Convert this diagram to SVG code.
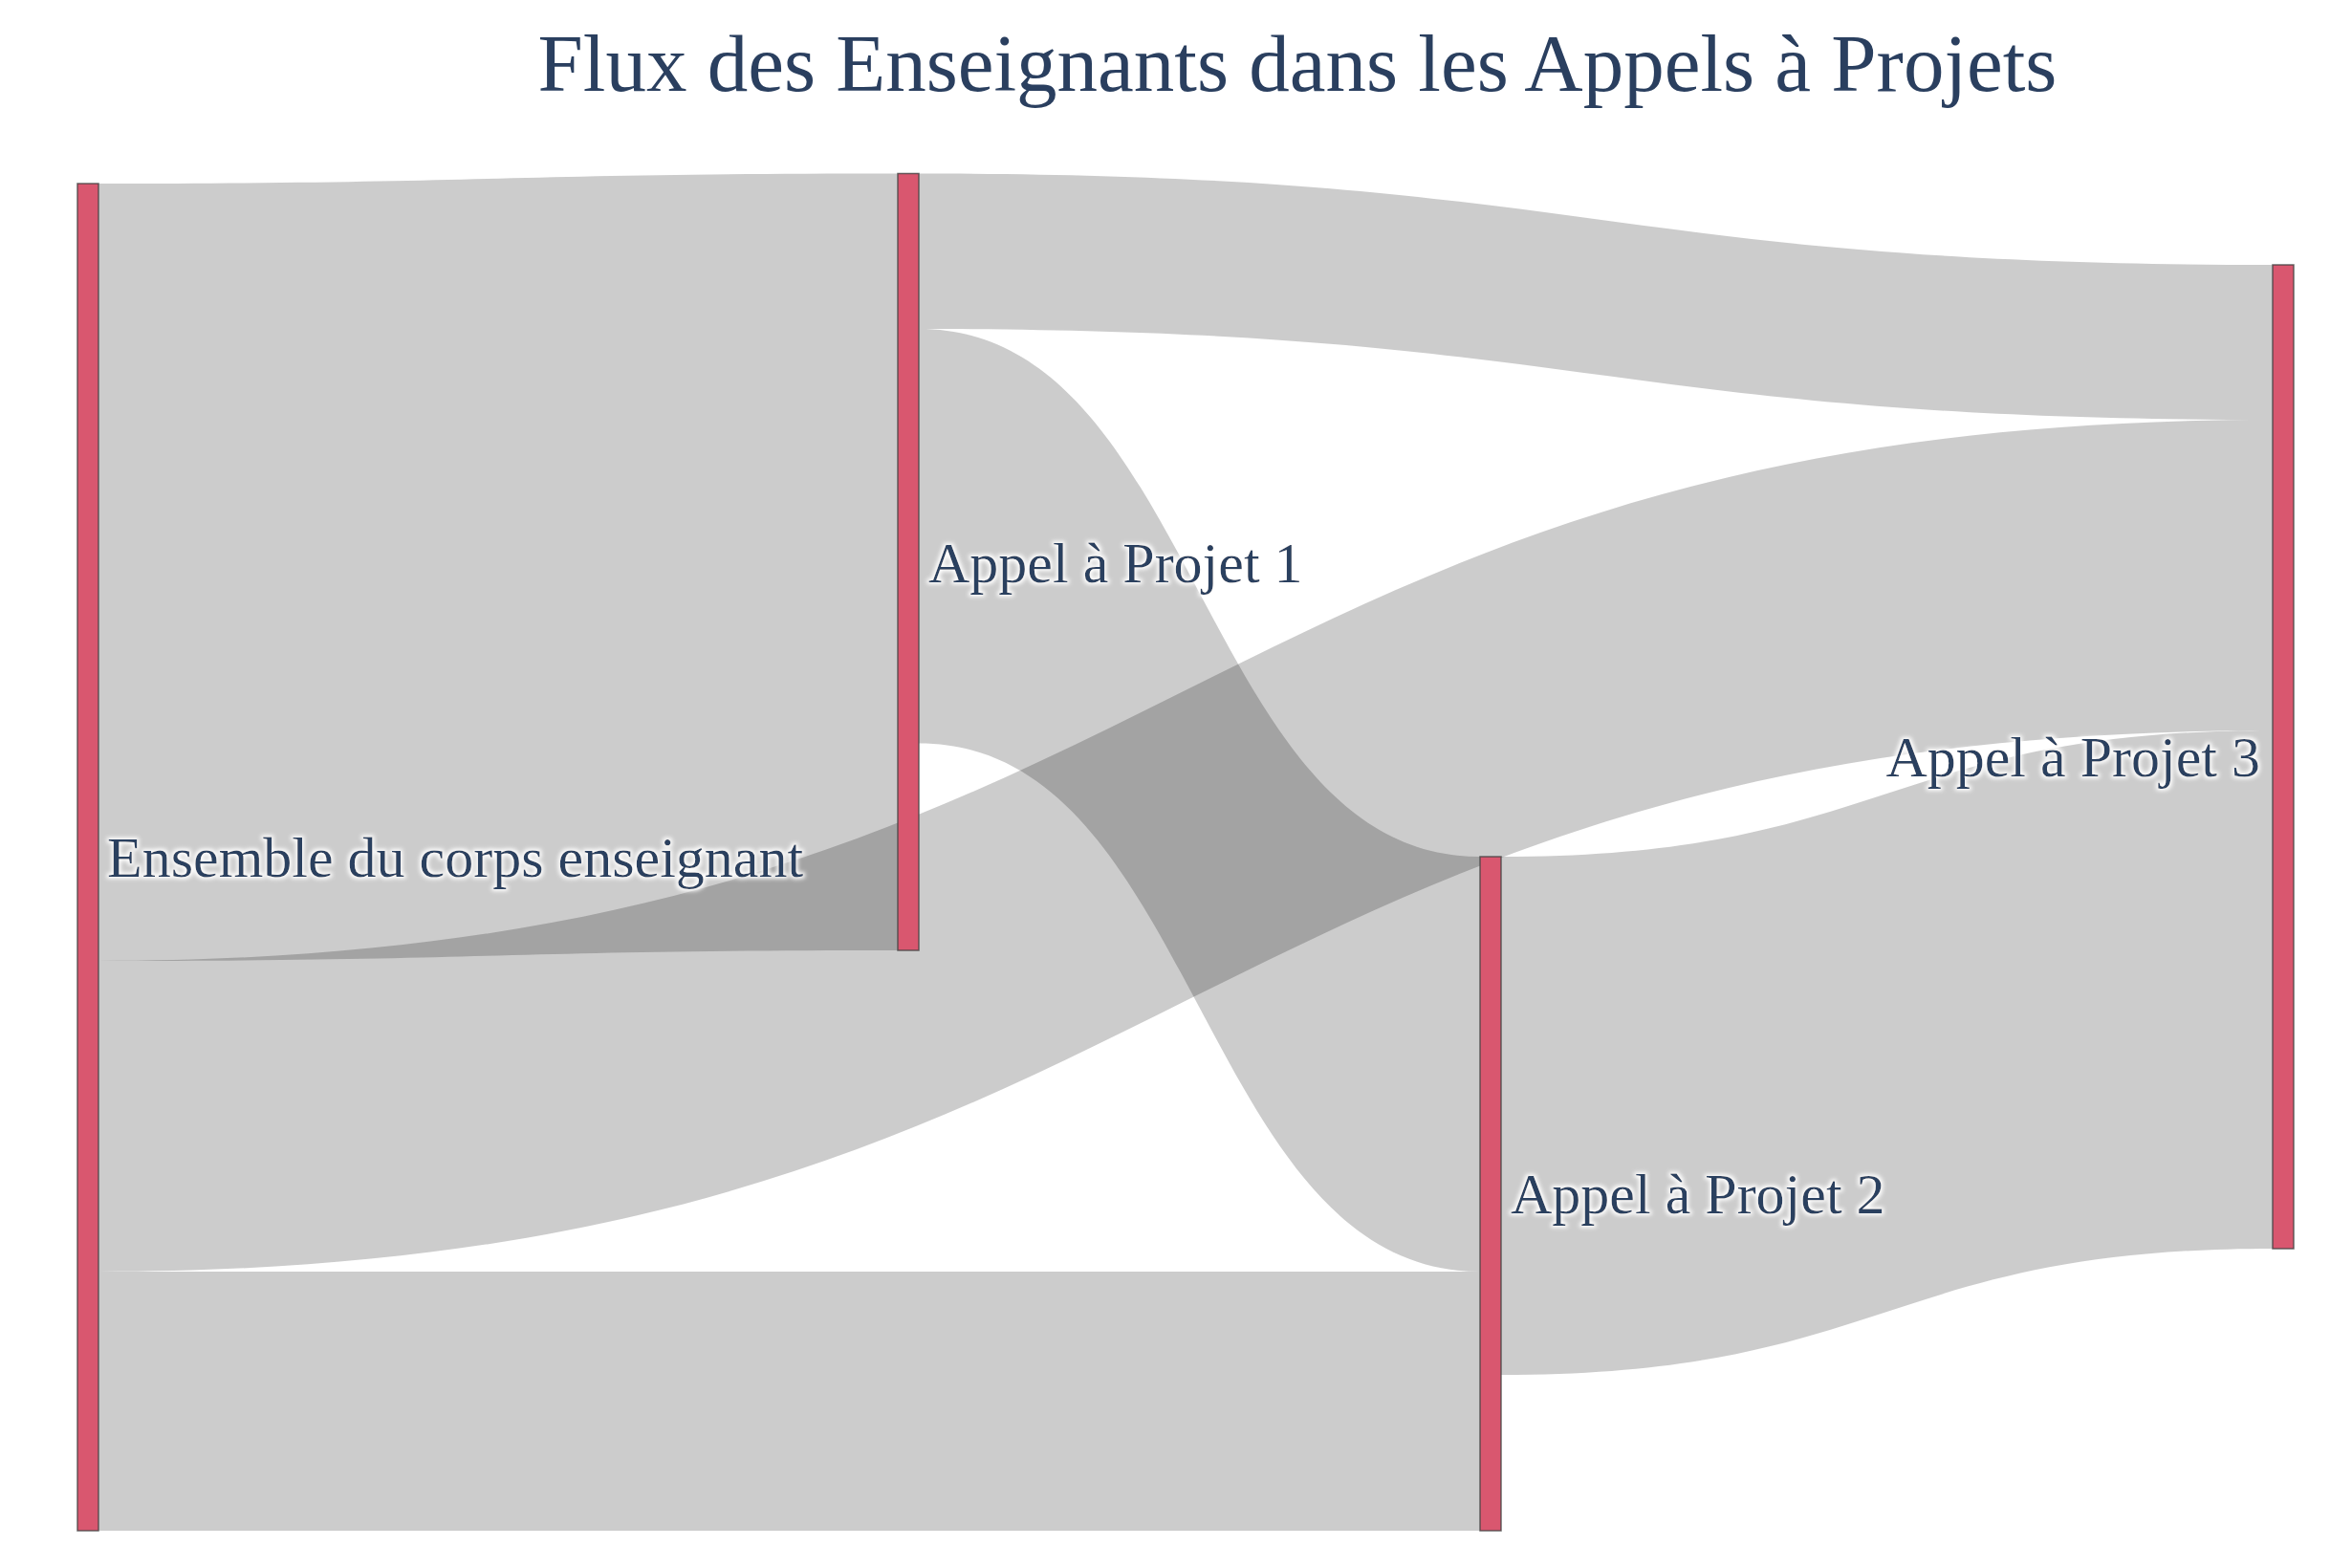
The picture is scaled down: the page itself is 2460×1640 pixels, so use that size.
<svg xmlns="http://www.w3.org/2000/svg" width="2460" height="1640" viewBox="0 0 2460 1640">
  <style>
    .link { fill: #000000; fill-opacity: 0.2; stroke: none; }
    .node { fill: #d9576f; stroke: #444444; stroke-opacity: 0.8; stroke-width: 1.5; }
    .label { font-family: "Liberation Serif", "Times New Roman", serif; font-size: 60px; fill: #2a3f5f; filter: url(#halo); }
    .title { font-family: "Liberation Serif", "Times New Roman", serif; font-size: 85px; fill: #2a3f5f; }
  </style>
  <defs>
    <filter id="halo" x="-5%" y="-30%" width="110%" height="160%">
      <feMorphology in="SourceAlpha" operator="dilate" radius="1.5" result="d"/>
      <feGaussianBlur in="d" stdDeviation="2" result="b"/>
      <feFlood flood-color="#ffffff" result="w"/>
      <feComposite in="w" in2="b" operator="in" result="h"/>
      <feMerge>
        <feMergeNode in="h"/>
        <feMergeNode in="SourceGraphic"/>
      </feMerge>
    </filter>
  </defs>
  <rect width="2460" height="1640" fill="#ffffff"/>
  <text class="title" x="1357" y="95" text-anchor="middle">Flux des Enseignants dans les Appels à Projets</text>

  <g id="connectors">
    <path id="link-ens-ap1" class="link" d="M103,192 C521,192 521,181.5 939,181.5 L939,994 C521,994 521,1005 103,1005 Z"/>
    <path id="link-ens-ap3" class="link" d="M103,1005 C1240,1005 1240,439 2377,439 L2377,764 C1240,764 1240,1330 103,1330 Z"/>
    <path id="link-ens-ap2" class="link" d="M103,1330 C825.5,1330 825.5,1330 1548,1330 L1548,1601 C825.5,1601 825.5,1601 103,1601 Z"/>
    <path id="link-ap1-ap3" class="link" d="M961,181.5 C1669,181.5 1669,277 2377,277 L2377,439 C1669,439 1669,344 961,344 Z"/>
    <path id="link-ap1-ap2" class="link" d="M961,344 C1254.5,344 1254.5,896 1548,896 L1548,1330 C1254.5,1330 1254.5,777.5 961,777.5 Z"/>
    <path id="link-ap2-ap3" class="link" d="M1570,896 C1973.5,896 1973.5,764 2377,764 L2377,1306 C1973.5,1306 1973.5,1438 1570,1438 Z"/>
  </g>

  <g id="node-ensemble">
    <rect class="node" x="81" y="192" width="22" height="1409"/>
    <text class="label" x="112" y="917">Ensemble du corps enseignant</text>
  </g>
  <g id="node-ap1">
    <rect class="node" x="939" y="181.5" width="22" height="812.5"/>
    <text class="label" x="971" y="608.5">Appel à Projet 1</text>
  </g>
  <g id="node-ap2">
    <rect class="node" x="1548" y="896" width="22" height="705"/>
    <text class="label" x="1580" y="1269">Appel à Projet 2</text>
  </g>
  <g id="node-ap3">
    <rect class="node" x="2377" y="277" width="22" height="1029"/>
    <text class="label" x="2364" y="812" text-anchor="end">Appel à Projet 3</text>
  </g>
</svg>
